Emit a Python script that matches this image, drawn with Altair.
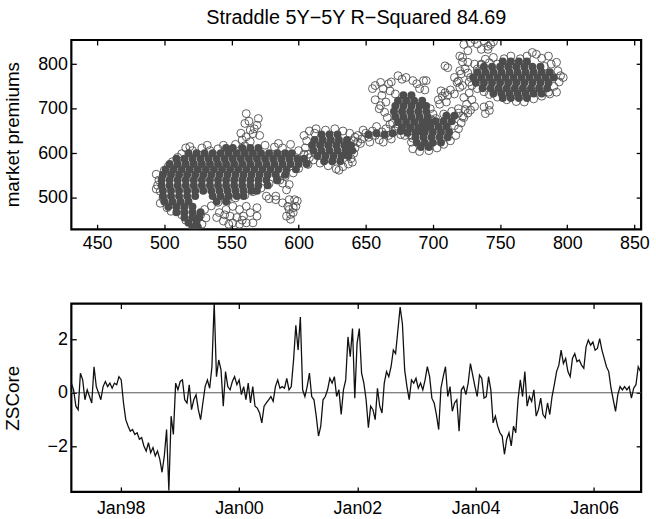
import altair as alt
import pandas as pd

TITLE = "Straddle 5Y\u22125Y R\u2212Squared 84.69"
GRAY = "#4d4d4d"
FONT = "Liberation Sans"

# ---------------- scatter data ----------------
# dense cores: {y: [x, ...]}
main_core = {
    612: [546, 551, 558, 564, 570],
    600: [518, 524, 530, 536, 542, 548, 554, 560, 566, 572, 578, 584, 590, 595],
    588: [509, 515, 521, 527, 533, 539, 545, 551, 557, 563, 569, 575, 581, 587, 593, 599, 604],
    576: [504, 510, 516, 522, 528, 534, 540, 546, 552, 558, 564, 570, 576, 582, 588, 594, 600, 606],
    564: [501, 507, 513, 519, 525, 531, 537, 543, 549, 555, 561, 567, 573, 579, 585, 591, 598],
    552: [499, 505, 511, 517, 523, 529, 535, 541, 547, 553, 559, 565, 571, 577, 583, 590],
    540: [498, 504, 510, 516, 522, 528, 534, 540, 546, 552, 558, 564, 570, 576, 584],
    528: [498, 504, 510, 516, 522, 528, 534, 540, 546, 552, 558, 564, 570, 577],
    516: [499, 505, 511, 517, 523, 529, 535, 541, 547, 553, 559, 565, 569],
    504: [499, 505, 511, 517, 523, 536, 542, 548, 554, 559],
    492: [500, 506, 512, 518, 539, 546],
    480: [503, 509, 515, 521],
    468: [509, 515, 521, 527],
    456: [515, 521, 526],
    444: [518, 524],
    434: [521, 525],
}
c2_core = {
    642: [617, 623, 629],
    630: [612, 618, 624, 630, 636],
    618: [610, 616, 622, 628, 634, 639],
    606: [611, 617, 623, 629, 635, 640],
    594: [614, 620, 626, 632, 637],
    582: [619, 625, 631],
}
band_core = {650: [676], 645: [658, 670], 642: [652, 664]}
c4_core = {
    730: [678, 684],
    718: [674, 680, 686, 692],
    706: [672, 678, 684, 690, 695],
    694: [671, 677, 683, 689, 695],
    682: [672, 678, 684, 690, 696],
    670: [674, 680, 686, 692, 697],
    658: [677, 683, 689, 695],
    646: [681, 687, 693],
}
c5_core = {
    684: [710, 716],
    672: [702, 708, 714],
    660: [692, 698, 704, 710],
    648: [688, 694, 700, 706, 712],
    636: [687, 693, 699, 705, 711],
    624: [688, 694, 700, 706],
    614: [691, 697],
}
c7_core = {
    806: [752, 758, 764, 770],
    794: [738, 744, 750, 756, 762, 768, 774, 780],
    782: [733, 739, 745, 751, 757, 763, 769, 775, 781, 787],
    770: [730, 736, 742, 748, 754, 760, 766, 772, 778, 784, 790],
    758: [732, 738, 744, 750, 756, 762, 768, 774, 780, 786],
    746: [737, 743, 749, 755, 761, 767, 773, 779, 785],
    734: [745, 751, 757, 763, 769, 775, 781],
    724: [752, 758, 764, 770],
}

# loose circles: (x, y)
main_edge = [
    (494, 553), (496, 540), (495, 528), (497, 515), (499, 500), (497, 488), (502, 478),
    (505, 470), (500, 562), (503, 571), (506, 581), (510, 591), (513, 599), (494, 520),
    (516, 612), (521, 606), (528, 612), (534, 606), (540, 610), (544, 618), (553, 620),
    (560, 617), (575, 618), (582, 614), (588, 612), (594, 620), (600, 606), (604, 598),
    (608, 590), (585, 622), (532, 618), (519, 615), (607, 575), (600, 566), (596, 556),
    (590, 548), (584, 540), (578, 532), (572, 522), (566, 514), (560, 506), (553, 500),
    (547, 496), (540, 490), (535, 482), (530, 474), (527, 462), (531, 455), (513, 462),
    (510, 470), (516, 450), (528, 441),
]
spur_up = [
    (561, 689), (570, 678), (560, 667), (564, 652), (566, 644), (561, 637), (564, 626),
    (567, 655), (569, 663), (558, 630), (571, 640), (557, 645), (563, 672),
]
spur_down = [
    (576, 504), (583, 504), (588, 533), (591, 518), (593, 496), (588, 489), (593, 474),
    (596, 467), (598, 481), (591, 459), (594, 452), (583, 496), (597, 496), (599, 493),
    (592, 481), (596, 478), (594, 463), (578, 498), (586, 540), (593, 530),
]
lower_cluster = [
    (541, 467), (546, 474), (551, 481), (556, 474), (561, 481), (564, 467), (569, 459),
    (549, 459), (554, 456), (559, 459), (544, 448), (551, 444), (561, 444), (566, 444),
    (556, 441), (569, 478), (539, 456), (548, 441), (558, 450), (545, 462),
]
c2_edge = [
    (608, 650), (613, 655), (620, 652), (627, 655), (633, 650), (638, 645), (642, 636),
    (644, 625), (642, 612), (641, 600), (639, 588), (637, 576), (633, 570), (628, 565),
    (622, 572), (616, 578), (611, 585), (607, 598), (605, 612), (606, 628), (604, 640),
    (630, 562), (640, 580), (612, 645),
]
band_edge = [
    (644, 640), (647, 632), (650, 645), (652, 636), (655, 650), (657, 640), (660, 630),
    (662, 648), (665, 655), (667, 640), (669, 632), (672, 650), (674, 660), (676, 642),
    (678, 655), (648, 652), (653, 625), (658, 660), (663, 625), (670, 668), (641, 628),
    (646, 622),
]
c4_edge = [
    (657, 752), (661, 759), (667, 756), (662, 730), (661, 707), (664, 692), (672, 733),
    (655, 745), (663, 745), (668, 740), (657, 720), (665, 715), (660, 700), (666, 680),
    (669, 760), (674, 774), (680, 770), (685, 763), (693, 763), (695, 763), (677, 766),
    (688, 756), (698, 700), (700, 688), (699, 675), (697, 660), (694, 742), (690, 745),
    (679, 640), (685, 634), (672, 655), (668, 665),
]
c5_edge = [
    (685, 610), (690, 604), (697, 606), (703, 612), (708, 620), (713, 628), (717, 640),
    (719, 655), (721, 668), (723, 680), (726, 690), (724, 698), (719, 700), (714, 694),
    (708, 688), (702, 678), (696, 670), (690, 665), (684, 640), (684, 625), (709, 652),
    (716, 662), (712, 675), (728, 697),
]
small_groups = [
    (706, 740), (709, 736), (711, 730), (707, 728), (713, 742), (704, 720), (710, 715),
    (705, 710), (716, 733), (720, 748), (718, 759), (709, 796), (711, 792), (716, 770),
    (719, 762), (722, 752), (721, 778), (720, 785),
]
c6_edge = [
    (723, 844), (728, 848), (731, 855), (738, 852), (743, 844), (741, 833), (736, 833),
    (726, 830), (722, 815), (726, 804), (731, 800), (736, 800), (733, 845), (745, 850),
    (741, 840),
]
c7_edge = [
    (720, 818), (722, 805), (724, 790), (726, 780), (728, 770), (727, 760), (729, 752),
    (733, 745), (738, 738), (742, 732), (748, 726), (755, 720), (762, 716), (768, 715),
    (775, 722), (781, 728), (787, 733), (792, 737), (786, 737), (790, 750), (794, 760),
    (795, 774), (793, 785), (792, 804), (786, 818), (781, 813), (777, 822), (770, 818),
    (765, 812), (760, 800), (748, 800), (742, 803), (736, 798), (733, 789), (783, 795),
    (788, 800), (774, 826), (797, 770), (739, 811), (745, 815), (753, 812), (758, 818),
    (738, 704), (742, 696), (739, 689), (742, 708), (725, 710), (729, 720), (723, 725),
    (727, 735), (731, 705), (719, 690), (722, 683),
]

# ---------------- z-score series (biweekly) ----------------
zscore = [
    0.36, 0.11, -0.5, -0.63, 0.73, 0.48, -0.26, 0.11, -0.14, -0.38,
    0.97, 0.23, -0.01, -0.26, 0.23, 0.42, 0.23, 0.36, 0.17, 0.36,
    0.3, 0.6, 0.48, -0.38, -1.0, -1.24, -1.43, -1.37, -1.55, -1.49,
    -1.73, -1.67, -1.98, -2.17, -1.86, -2.23, -2.04, -2.35, -2.17, -2.47,
    -2.96, -2.35, -1.37, -3.64, -0.87, -1.55, 0.36, 0.11, 0.42, 0.48,
    -0.26, -0.38, 0.3, -0.63, -0.26, -0.07, -0.63, -1.0, -0.38, 0.23,
    0.48, 0.17, 0.97, 3.37, 0.6, 1.22, 0.85, -0.5, 0.79, 0.23,
    0.11, 0.42, 0.6, 0.3, 0.48, -0.07, 0.23, -0.26, 0.36, -0.38,
    0.23, -0.5, -0.57, -0.75, -1.12, -0.5,
    -0.38, -0.26, -0.14, -0.32, 0.23, 0.48, 0.17, 0.23, 0.17, 0.54,
    0.11, 0.23, 1.22, 2.51, 1.59, 2.82, 0.11, -0.14, 0.23, 0.73,
    -0.14, -0.26, -0.87, -1.61, -1.24, -0.26, -0.14, 0.11, 0.54, 0.36,
    0.6, -0.14, 0.11, -0.81, 0.11, 0.48, 2.08, 1.34, 2.39, -0.2,
    1.83, 2.39, 0.73, 0.36, -0.26, -1.3, -0.5, -0.63, -1.0, 0.17,
    -0.5, -0.75, 0.36, 0.79, 0.6, 0.97, 1.59, 1.46, 2.32, 3.19,
    2.57, 0.85, 0.23, -0.26, 0.48, 0.36, 0.54, 0.17, 0.36, 0.11,
    0.48, 0.97, 0.6, -0.2, -0.38, -0.81, -1.37, 0.17, 0.6, 0.97,
    -0.14, 0.23, -0.69, -0.38,
    -0.26, -1.43, 0.11, 0.23, -0.07, 0.36, 1.09, 0.66, 0.23, -0.14,
    0.66, 0.54, -0.2, -0.14, 0.6, 0.11, -1.12, -0.87, -1.24, -1.49,
    -1.61, -2.29, -1.73, -1.49, -1.98, -1.24, -1.49, -0.26, 0.48, -0.14,
    0.79, -0.5, -0.14, -0.32, 0.11, -0.87, -0.63, -0.2, -0.81, -0.93,
    -0.38, -0.81, -0.14, 0.3, 0.79, 1.03, 1.59, 1.09, 1.28, 0.79,
    0.6, 1.28, 1.46, 1.16, 1.22, 1.03, 0.91, 1.71, 1.96, 1.77,
    1.89, 1.59, 1.65, 2.02, 1.59, 1.28, 0.97, 0.79, 0.17, -0.26,
    -0.69, -0.07, 0.23, 0.11, 0.23, 0.11, 0.23, -0.2, 0.17, 0.3,
    0.97, 0.79,
]
series_start = "1997-03-02"

x_ticks = [450, 500, 550, 600, 650, 700, 750, 800, 850]
y_ticks = [500, 600, 700, 800]
z_ticks = [-2, 0, 2]
date_ticks = [1998, 2000, 2002, 2004, 2006]


def rows_to_pairs(rows):
    return [(x, y) for y, xs in rows.items() for x in xs]


core_pairs = []
for r in (main_core, c2_core, band_core, c4_core, c5_core, c7_core):
    core_pairs += rows_to_pairs(r)
edge_pairs = (main_edge + spur_up + spur_down + lower_cluster + c2_edge + band_edge
              + c4_edge + c5_edge + small_groups + c6_edge + c7_edge)

core_df = pd.DataFrame(core_pairs, columns=["x", "y"])
edge_df = pd.DataFrame(edge_pairs, columns=["x", "y"])

ts_df = pd.DataFrame({
    "date": pd.date_range(series_start, periods=len(zscore), freq="14D"),
    "z": zscore,
})
zero_df = pd.DataFrame({"z": [0.0]})

tick_style = dict(offset=-5, tickSize=5, domain=False, grid=False,
                  tickColor="black", tickWidth=1.3,
                  labelFont=FONT, labelFontSize=18, labelColor="black",
                  titleFont=FONT, titleFontSize=19, titleFontWeight="normal",
                  titleColor="black")
TITLE_X = -64.5

xs = alt.Scale(domain=[430.8, 855], nice=False, zero=False)
ys = alt.Scale(domain=[429.6, 854], nice=False, zero=False)

core_layer = alt.Chart(core_df).mark_point(
    shape="circle", size=64, filled=True, color=GRAY, opacity=1, clip=True
).encode(
    x=alt.X("x:Q", scale=xs,
            axis=alt.Axis(orient="top", values=x_ticks, labels=False, title=None, **tick_style)),
    y=alt.Y("y:Q", scale=ys,
            axis=alt.Axis(orient="right", values=y_ticks, labels=False, title=None, **tick_style)),
)
edge_layer = alt.Chart(edge_df).mark_point(
    shape="circle", size=64, filled=False, color=GRAY, strokeWidth=0.9, opacity=1, clip=True
).encode(
    x=alt.X("x:Q", scale=xs,
            axis=alt.Axis(orient="bottom", values=x_ticks, title=None, labelPadding=5, **tick_style)),
    y=alt.Y("y:Q", scale=ys,
            axis=alt.Axis(orient="left", values=y_ticks, title="market premiums",
                          labelPadding=4, titleX=TITLE_X, titleY=95, titleAngle=270,
                          titleAlign="center", titleBaseline="middle", **tick_style)),
)
top = alt.layer(core_layer, edge_layer).properties(
    width=575, height=191,
    title=alt.TitleParams(TITLE, fontSize=20, font=FONT, fontWeight="normal",
                          color="black", anchor="middle", offset=12),
)

d_scale = alt.Scale(domain=[alt.DateTime(year=1997, month=3, date=2),
                            alt.DateTime(year=2006, month=10, date=19)], nice=False)
z_scale = alt.Scale(domain=[-3.69, 3.32], nice=False, zero=False)
d_values = [alt.DateTime(year=yr, month=1, date=1) for yr in date_ticks]

zero_rule = alt.Chart(zero_df).mark_rule(color="#555555", strokeWidth=1).encode(
    y=alt.Y("z:Q", scale=z_scale, axis=None)
)
line = alt.Chart(ts_df).mark_line(color="#111111", strokeWidth=1.3, clip=True).encode(
    x=alt.X("date:T", scale=d_scale,
            axis=alt.Axis(orient="bottom", values=d_values, format="%b%y", title=None,
                          labelPadding=8, **tick_style)),
    y=alt.Y("z:Q", scale=z_scale,
            axis=alt.Axis(orient="left", values=z_ticks, title="ZSCore", labelPadding=4,
                          titleX=TITLE_X, titleY=95, titleAngle=270, titleAlign="center",
                          titleBaseline="middle", **tick_style)),
)
ghost = alt.Chart(ts_df).mark_line(strokeOpacity=0, clip=True).encode(
    x=alt.X("date:T", scale=d_scale,
            axis=alt.Axis(orient="top", values=d_values, labels=False, title=None, **tick_style)),
    y=alt.Y("z:Q", scale=z_scale,
            axis=alt.Axis(orient="right", values=z_ticks, labels=False, title=None, **tick_style)),
)
bottom = alt.layer(zero_rule, line, ghost).properties(width=575, height=190)

chart = alt.vconcat(top, bottom, spacing=48).properties(
    padding={"left": 2, "top": 4, "right": 5, "bottom": 0},
    background="white",
).configure_view(
    stroke="black", strokeWidth=2.2
)

chart.save("out.html", embed_options={"renderer": "svg", "actions": False})
